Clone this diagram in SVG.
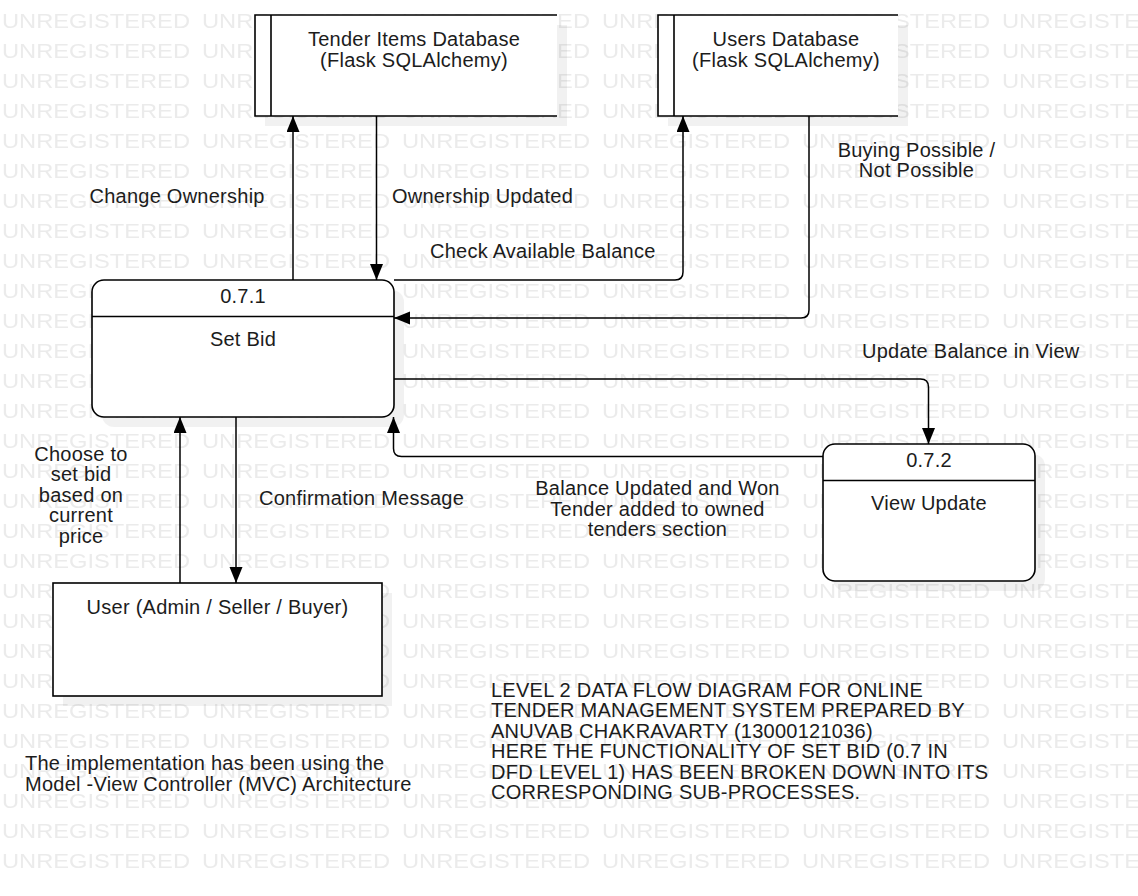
<svg xmlns="http://www.w3.org/2000/svg" width="1138" height="896" viewBox="0 0 1138 896">
  <defs>
    <style>
      text { font-family: "Liberation Sans", Arial, sans-serif; font-size: 20px; fill: #1c1c1c; letter-spacing: 0.25px; }
      .wm { font-size: 20.5px; fill: #ebebeb; letter-spacing: 0; }
      .mid { text-anchor: middle; }
      .shadow { fill: #000; fill-opacity: 0.055; }
      .body { fill: #fff; stroke: #000; stroke-width: 1.6; }
      .edge { fill: none; stroke: #000; stroke-width: 1.6; }
      .flow { fill: none; stroke: #000; stroke-width: 1.5; marker-end: url(#arrow); }
    </style>
    <pattern id="wm" width="200" height="30" patternUnits="userSpaceOnUse">
      <text class="wm" x="2" y="27.5" textLength="188" lengthAdjust="spacingAndGlyphs">UNREGISTERED</text>
    </pattern>
    <marker id="arrow" markerUnits="userSpaceOnUse" markerWidth="17" markerHeight="14" refX="16" refY="6.5" orient="auto">
      <path d="M0,0 L16,6.5 L0,13 z" fill="#000"/>
    </marker>
  </defs>

  <!-- page background with repeated watermark -->
  <rect width="1138" height="896" fill="#fff"/>
  <rect width="1138" height="872" fill="url(#wm)"/>

  <!-- data store: tender items -->
  <g id="store-tender-items">
    <rect class="shadow" x="265" y="25" width="302" height="101"/>
    <rect x="255" y="15" width="302" height="101" fill="#fff"/>
    <path class="edge" d="M557,15 H255 V116 H557 M271,15 V116"/>
    <text class="mid" x="414" y="46">Tender Items Database</text>
    <text class="mid" x="414" y="67">(Flask SQLAlchemy)</text>
  </g>

  <!-- data store: users -->
  <g id="store-users">
    <rect class="shadow" x="668" y="25" width="240" height="101"/>
    <rect x="658" y="15" width="240" height="101" fill="#fff"/>
    <path class="edge" d="M898,15 H658 V116 H898 M674,15 V116"/>
    <text class="mid" x="786" y="46">Users Database</text>
    <text class="mid" x="786" y="67">(Flask SQLAlchemy)</text>
  </g>

  <!-- process 0.7.1 -->
  <g id="process-set-bid">
    <rect class="shadow" x="102" y="290" width="302" height="137" rx="12"/>
    <rect class="body" x="92" y="280" width="302" height="137" rx="12"/>
    <line class="edge" x1="92" y1="316.5" x2="394" y2="316.5"/>
    <text class="mid" x="243" y="303">0.7.1</text>
    <text class="mid" x="243" y="346">Set Bid</text>
  </g>

  <!-- process 0.7.2 -->
  <g id="process-view-update">
    <rect class="shadow" x="833" y="454" width="212" height="137" rx="12"/>
    <rect class="body" x="823" y="444" width="212" height="137" rx="12"/>
    <line class="edge" x1="823" y1="480.5" x2="1035" y2="480.5"/>
    <text class="mid" x="929" y="467">0.7.2</text>
    <text class="mid" x="929" y="510">View Update</text>
  </g>

  <!-- external entity -->
  <g id="entity-user">
    <rect class="shadow" x="63" y="593" width="329" height="113"/>
    <rect class="body" x="53" y="583" width="329" height="113"/>
    <text class="mid" x="217.5" y="614">User (Admin / Seller / Buyer)</text>
  </g>

  <!-- data flows -->
  <g id="connectors">
    <path class="flow" d="M293,280 V116"/>
    <path class="flow" d="M376.5,116 V280"/>
    <path class="flow" d="M394,280 H675 Q683,280 683,272 V116"/>
    <path class="flow" d="M809,116 V310 Q809,318 801,318 H394"/>
    <path class="flow" d="M394,379 H920.5 Q928.5,379 928.5,387 V444"/>
    <path class="flow" d="M823,456.5 H401.5 Q393.5,456.5 393.5,448.5 V417"/>
    <path class="flow" d="M180,583 V417"/>
    <path class="flow" d="M236,417 V583"/>
  </g>

  <!-- flow labels -->
  <g id="flow-labels">
    <text x="89.5" y="203">Change Ownership</text>
    <text x="392" y="203">Ownership Updated</text>
    <text x="430" y="258">Check Available Balance</text>
    <text class="mid" x="916.5" y="157">Buying Possible /</text>
    <text class="mid" x="916.5" y="177">Not Possible</text>
    <text x="862" y="358">Update Balance in View</text>
    <text x="259" y="504.5">Confirmation Message</text>
    <text class="mid" x="657.5" y="495">Balance Updated and Won</text>
    <text class="mid" x="657.5" y="515.5">Tender added to owned</text>
    <text class="mid" x="657.5" y="536">tenders section</text>
    <text class="mid" x="81" y="460.5">Choose to</text>
    <text class="mid" x="81" y="481">set bid</text>
    <text class="mid" x="81" y="501.5">based on</text>
    <text class="mid" x="81" y="522">current</text>
    <text class="mid" x="81" y="542.5">price</text>
  </g>

  <!-- notes -->
  <g id="note-title">
    <text x="491" y="696.5">LEVEL 2 DATA FLOW DIAGRAM FOR ONLINE</text>
    <text x="491" y="717">TENDER MANAGEMENT SYSTEM PREPARED BY</text>
    <text x="491" y="737.5">ANUVAB CHAKRAVARTY (13000121036)</text>
    <text x="491" y="758">HERE THE FUNCTIONALITY OF SET BID (0.7 IN</text>
    <text x="491" y="778.5">DFD LEVEL 1) HAS BEEN BROKEN DOWN INTO ITS</text>
    <text x="491" y="799">CORRESPONDING SUB-PROCESSES.</text>
  </g>
  <g id="note-mvc">
    <text x="25" y="770">The implementation has been using the</text>
    <text x="25" y="790.5">Model -View Controller (MVC) Architecture</text>
  </g>
</svg>
